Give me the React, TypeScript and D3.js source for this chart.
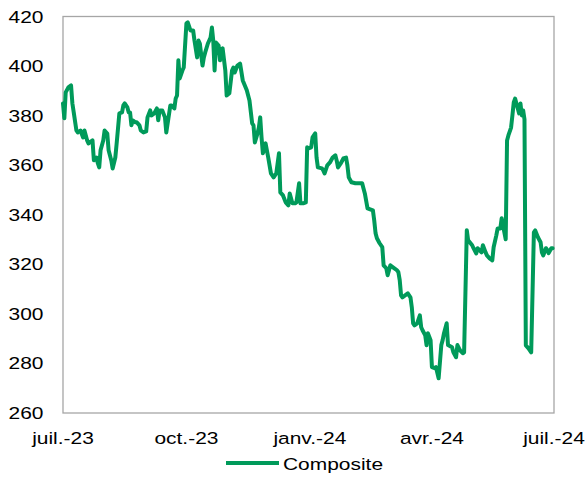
import React from "react";
import * as d3 from "d3";

const dates: string[] = [
  "2023-07-01","2023-07-02","2023-07-03","2023-07-05","2023-07-07","2023-07-08","2023-07-09","2023-07-11","2023-07-12","2023-07-14",
  "2023-07-16","2023-07-17","2023-07-19","2023-07-20","2023-07-23","2023-07-24","2023-07-26","2023-07-27","2023-07-28","2023-07-29",
  "2023-07-31","2023-08-01","2023-08-03","2023-08-04","2023-08-06","2023-08-07","2023-08-09","2023-08-10","2023-08-11","2023-08-12",
  "2023-08-14","2023-08-15","2023-08-16","2023-08-18","2023-08-19","2023-08-20","2023-08-21","2023-08-22","2023-08-24","2023-08-25",
  "2023-08-27","2023-08-28","2023-08-30","2023-09-01","2023-09-02","2023-09-04","2023-09-05","2023-09-07","2023-09-09","2023-09-10",
  "2023-09-11","2023-09-13","2023-09-15","2023-09-16","2023-09-19","2023-09-20","2023-09-22","2023-09-23","2023-09-24","2023-09-25",
  "2023-09-26","2023-09-28","2023-09-29","2023-10-01","2023-10-02","2023-10-04","2023-10-06","2023-10-07","2023-10-09","2023-10-10",
  "2023-10-11","2023-10-13","2023-10-14","2023-10-15","2023-10-17","2023-10-19","2023-10-20","2023-10-21","2023-10-22","2023-10-23",
  "2023-10-25","2023-10-26","2023-10-27","2023-10-28","2023-10-30","2023-10-31","2023-11-02","2023-11-04","2023-11-05","2023-11-06",
  "2023-11-08","2023-11-10","2023-11-12","2023-11-15","2023-11-17","2023-11-19","2023-11-20","2023-11-21","2023-11-23","2023-11-24",
  "2023-11-25","2023-11-26","2023-11-27","2023-11-29","2023-12-01","2023-12-03","2023-12-05","2023-12-07","2023-12-09","2023-12-10",
  "2023-12-12","2023-12-14","2023-12-16","2023-12-17","2023-12-19","2023-12-21","2023-12-22","2023-12-24","2023-12-25","2023-12-27",
  "2023-12-29","2023-12-30","2023-12-31","2024-01-02","2024-01-03","2024-01-05","2024-01-06","2024-01-07","2024-01-10","2024-01-11",
  "2024-01-12","2024-01-14","2024-01-16","2024-01-18","2024-01-20","2024-01-21","2024-01-22","2024-01-24","2024-01-26","2024-01-28",
  "2024-01-29","2024-01-30","2024-02-01","2024-02-04","2024-02-06","2024-02-09","2024-02-10","2024-02-11","2024-02-13","2024-02-15",
  "2024-02-17","2024-02-18","2024-02-19","2024-02-20","2024-02-22","2024-02-24","2024-02-25","2024-02-27","2024-02-28","2024-03-01",
  "2024-03-03","2024-03-04","2024-03-06","2024-03-07","2024-03-08","2024-03-09","2024-03-10","2024-03-13","2024-03-14","2024-03-16",
  "2024-03-17","2024-03-18","2024-03-19","2024-03-21","2024-03-23","2024-03-24","2024-03-25","2024-03-27","2024-03-28","2024-03-29",
  "2024-03-31","2024-04-01","2024-04-03","2024-04-04","2024-04-06","2024-04-08","2024-04-09","2024-04-10","2024-04-12","2024-04-13",
  "2024-04-16","2024-04-17","2024-04-19","2024-04-20","2024-04-22","2024-04-24","2024-04-25","2024-04-27","2024-04-28","2024-05-01",
  "2024-05-02","2024-05-04","2024-05-05","2024-05-08","2024-05-09","2024-05-11","2024-05-12","2024-05-14","2024-05-16","2024-05-17",
  "2024-05-19","2024-05-20","2024-05-22","2024-05-23","2024-05-25","2024-05-26","2024-05-27","2024-05-28","2024-05-30","2024-05-31",
  "2024-06-01","2024-06-02","2024-06-04","2024-06-05","2024-06-06","2024-06-07","2024-06-08","2024-06-09","2024-06-10","2024-06-12",
  "2024-06-14","2024-06-16","2024-06-17","2024-06-19","2024-06-21","2024-06-22","2024-06-23","2024-06-25","2024-06-26","2024-06-27",
  "2024-06-29","2024-06-30"
];

const composite: number[] = [
  384.9,378.9,389.4,391.4,392.2,384.9,381.3,374.0,373.2,374.0,
  371.2,374.0,370.0,368.8,370.0,362.0,363.1,360.7,359.1,366.0,
  370.0,374.0,372.8,366.0,361.9,358.7,363.1,368.8,374.8,380.9,
  381.3,384.1,384.9,383.3,381.3,381.3,376.1,378.1,377.3,377.3,
  376.1,374.0,373.2,373.6,379.3,382.1,380.1,380.9,382.9,378.1,
  382.1,382.1,379.3,373.2,384.1,384.1,382.9,386.9,388.1,402.3,
  395.0,398.2,399.4,417.2,417.6,414.4,414.4,410.3,403.5,410.3,
  409.1,400.2,403.5,405.5,409.1,411.5,415.6,410.3,398.2,409.5,
  408.3,402.3,406.3,407.1,398.2,388.1,389.0,398.2,399.4,397.4,
  400.2,401.0,394.2,390.2,386.1,376.9,376.1,369.2,372.8,375.2,
  379.3,371.2,364.8,368.8,363.1,356.7,355.1,356.7,364.8,349.0,
  347.8,345.0,343.8,348.6,344.6,344.6,345.0,352.7,344.6,344.6,
  345.0,367.2,366.8,367.2,371.2,372.8,363.1,359.1,358.7,357.9,
  356.7,359.9,361.1,363.1,364.0,361.9,359.1,360.7,362.7,363.1,
  359.9,355.1,353.1,352.7,352.7,352.7,350.6,348.6,342.6,342.2,
  341.8,337.7,332.5,330.5,328.5,326.9,319.6,318.4,315.6,319.6,
  318.8,318.4,317.6,316.8,313.6,307.5,306.7,307.9,308.3,306.7,
  302.7,296.2,295.4,296.2,299.4,294.6,293.4,291.4,287.3,292.2,
  289.4,278.5,278.1,278.5,274.0,287.4,289.4,292.2,296.2,287.4,
  286.5,284.5,282.5,287.4,285.3,284.1,284.5,333.7,329.7,327.7,
  326.5,324.4,326.5,324.8,327.7,324.8,323.6,322.4,321.6,326.9,
  331.7,334.5,334.5,338.6,332.9,330.1,370.0,372.0,375.2,380.1,
  385.3,386.9,382.9,380.9,384.9,380.1,382.1,378.5,287.3,286.1,
  284.5,332.9,333.7,330.9,328.9,324.8,323.6,326.5,325.7,324.5,
  326.5,326.5
];

const yTicks: number[] = [260, 280, 300, 320, 340, 360, 380, 400, 420];
const xTickDates: string[] = ["2023-07-01", "2023-10-01", "2024-01-01", "2024-04-01", "2024-07-01"];
const xTickLabels: string[] = ["juil.-23", "oct.-23", "janv.-24", "avr.-24", "juil.-24"];
const seriesName = "Composite";

const W = 585, H = 477;
const M = { left: 63, right: 554, top: 16.5, bottom: 413 };
const GREEN = "#009a5a";
const AXIS = "#a6a6a6";
const FONT = "'Liberation Sans', Arial, sans-serif";
const FS = 16.5;
const SX = 1.27;

export default function App() {
  const parse = d3.timeParse("%Y-%m-%d");
  const data = dates.map((d, i) => ({ date: parse(d) as Date, value: composite[i] }));
  const x = d3.scaleTime()
    .domain([parse(xTickDates[0]) as Date, parse(xTickDates[xTickDates.length - 1]) as Date])
    .range([M.left, M.right]);
  const y = d3.scaleLinear().domain([260, 420]).range([M.bottom, M.top]);
  const line = d3.line<{ date: Date; value: number }>()
    .x((d) => x(d.date))
    .y((d) => y(d.value))
    .curve(d3.curveLinear);

  return (
    <svg width={W} height={H} style={{ position: "absolute", left: 0, top: 0, background: "#fff" }}>
      <rect x={M.left} y={M.top} width={M.right - M.left} height={M.bottom - M.top}
        fill="none" stroke={AXIS} strokeWidth={1.3} />
      {yTicks.map((t) => (
        <text key={t} transform={`translate(43.5,${y(t) + 6}) scale(${SX},1)`}
          textAnchor="end" fontFamily={FONT} fontSize={FS} fill="#000">{t}</text>
      ))}
      {xTickDates.map((d, i) => (
        <text key={d} transform={`translate(${x(parse(d) as Date)},${444}) scale(${SX},1)`}
          textAnchor="middle" fontFamily={FONT} fontSize={FS} fill="#000">{xTickLabels[i]}</text>
      ))}
      <path d={line(data) || ""} fill="none" stroke={GREEN} strokeWidth={4} strokeLinejoin="round" strokeLinecap="round" />
      <line x1={226} x2={279} y1={463} y2={463} stroke={GREEN} strokeWidth={4} />
      <text transform={`translate(283,469.5) scale(${SX},1)`} fontFamily={FONT} fontSize={FS} fill="#000">{seriesName}</text>
    </svg>
  );
}
